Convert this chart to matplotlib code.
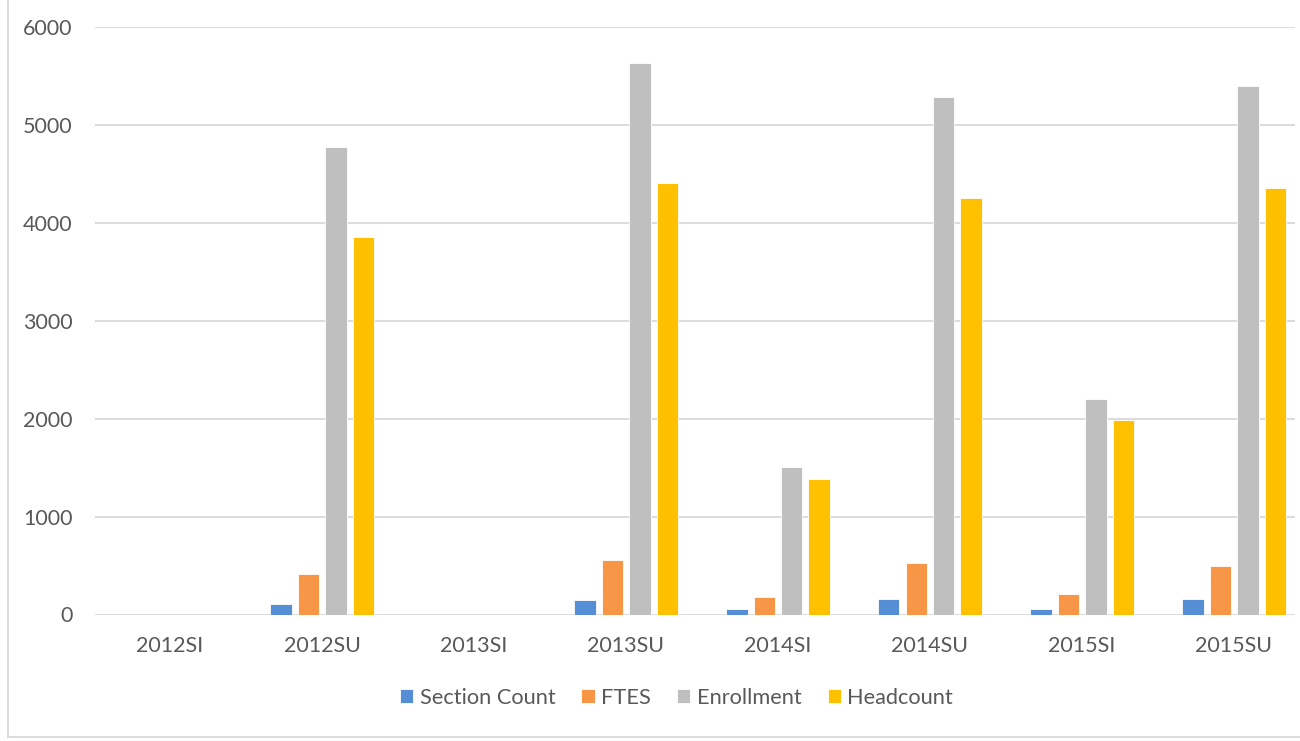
import matplotlib
matplotlib.use("Agg")
import matplotlib.pyplot as plt
import numpy as np
from matplotlib.lines import Line2D

categories = ["2012SI", "2012SU", "2013SI", "2013SU", "2014SI", "2014SU", "2015SI", "2015SU"]
section_count = [0, 107, 0, 151, 56, 158, 59, 155]
ftes = [0, 411, 0, 554, 176, 523, 213, 499]
enrollment = [0, 4777, 0, 5630, 1507, 5288, 2201, 5397]
headcount = [0, 3860, 0, 4402, 1385, 4256, 1987, 4351]
series_names = ["Section Count", "FTES", "Enrollment", "Headcount"]
yticks = [0, 1000, 2000, 3000, 4000, 5000, 6000]

colors = ["#558ED5", "#F79646", "#BFBFBF", "#FFC000"]
text_color = "#595959"
grid_color = "#D9D9D9"

plt.rcParams["font.family"] = ["Lato", "DejaVu Sans"]

W, H = 1300, 741
fig = plt.figure(figsize=(W / 100, H / 100), dpi=100)
left_px, right_px = 95, 1295
top_px, bottom_px = 27, 614.5
ax = fig.add_axes([left_px / W, 1 - bottom_px / H, (right_px - left_px) / W, (bottom_px - top_px) / H])

x = np.arange(len(categories))
step = 27.5 / 152
width = 21.5 / 152
all_series = [section_count, ftes, enrollment, headcount]
for i, (vals, c, name) in enumerate(zip(all_series, colors, series_names)):
    ax.bar(x + (i - 1.5) * step, vals, width=width, color=c, label=name,
           edgecolor="white", linewidth=0.6, zorder=3)

ax.set_ylim(0, 6000)
ax.set_xlim((left_px - 170) / 152, (right_px - 170) / 152)
ax.set_yticks(yticks)
ax.set_yticklabels([str(v) for v in yticks])
ax.set_xticks(x)
ax.set_xticklabels(categories)
ax.tick_params(axis="both", length=0, colors=text_color)
ax.tick_params(axis="y", pad=16, labelsize=15.5)
ax.tick_params(axis="x", pad=15.5, labelsize=15.5)
ax.grid(axis="y", color=grid_color, linewidth=1.3, zorder=0)
for s in ax.spines.values():
    s.set_visible(False)

leg = fig.legend(loc="center", bbox_to_anchor=(676.5 / W, 1 - 698 / H), ncol=4, frameon=False,
                 fontsize=15.7, handlelength=0.6, handleheight=0.6, handletextpad=0.3,
                 columnspacing=1.2, labelcolor=text_color)

# outer chart frame (left and bottom visible)
fig.add_artist(Line2D([7.5 / W, 7.5 / W], [1 - 737 / H, 1.0], transform=fig.transFigure,
                      color=grid_color, linewidth=1.3))
fig.add_artist(Line2D([7.5 / W, 1.0], [1 - 737 / H, 1 - 737 / H], transform=fig.transFigure,
                      color=grid_color, linewidth=1.3))

fig.savefig("out.png", dpi=100)
